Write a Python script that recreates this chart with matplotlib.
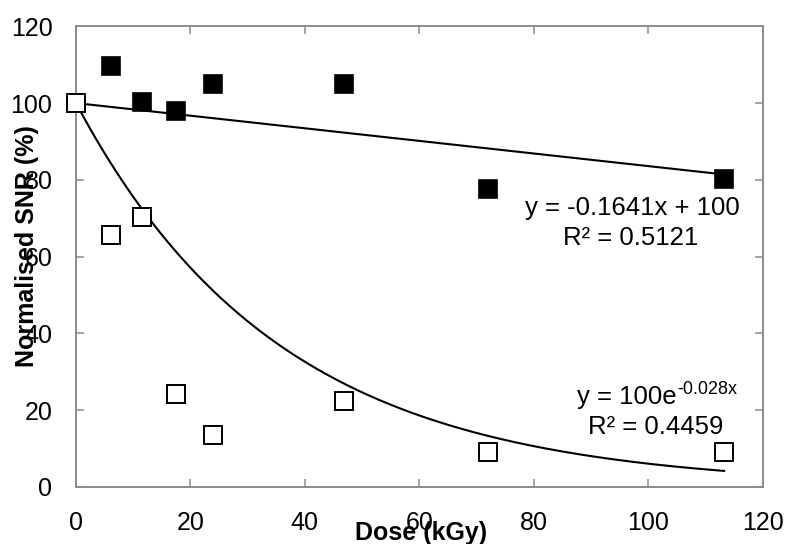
import numpy as np
import matplotlib.pyplot as plt

plt.rcParams["font.family"] = ["Liberation Sans", "DejaVu Sans"]

# irradiated (filled) and control (open) series
dose_filled = [6.2, 11.6, 17.5, 24.0, 46.9, 72.1, 113.3]
snr_filled = [109.6, 100.2, 97.9, 104.9, 104.9, 77.5, 80.2]

dose_open = [0.0, 6.2, 11.6, 17.5, 24.0, 46.9, 72.1, 113.3]
snr_open = [100.0, 65.6, 70.3, 24.2, 13.5, 22.3, 9.0, 9.0]

# trendline coefficients as printed on the chart
lin_slope, lin_icpt, lin_r2 = -0.1641, 100, 0.5121
exp_a, exp_b, exp_r2 = 100, -0.028, 0.4459

gray = "#8c8c8c"
fs = 18
fs_eq = 18.5

fig = plt.figure(figsize=(7.87, 5.44), dpi=100)
ax = fig.add_axes([76 / 787, 1 - 487 / 544, (762.5 - 76) / 787, (487 - 26.3) / 544])

xt = np.linspace(0, max(dose_open), 300)
ax.plot(xt, lin_slope * xt + lin_icpt, color="black", lw=1.5, zorder=2)
ax.plot(xt, exp_a * np.exp(exp_b * xt), color="black", lw=1.5, zorder=2)

ax.plot(dose_filled, snr_filled, "s", ms=12.5, mfc="black", mec="black",
        mew=1.2, ls="none", zorder=3, clip_on=False)
ax.plot(dose_open, snr_open, "s", ms=12.5, mfc="white", mec="black",
        mew=1.4, ls="none", zorder=4, clip_on=False)

ax.set_xlim(0, 120)
ax.set_ylim(0, 120)
ax.set_xticks(np.arange(0, 121, 20))
ax.set_yticks(np.arange(0, 121, 20))
ax.tick_params(direction="in", length=5.8, width=1.1, color=gray,
               labelsize=fs, top=True, right=True, pad=17)
for s in ax.spines.values():
    s.set_color(gray)
    s.set_linewidth(1.4)

tf = fig.transFigure
fig.text(632 / 787, 1 - 208 / 544, "y = -0.1641x + 100", ha="center", va="center",
         fontsize=fs_eq)
fig.text(631 / 787, 1 - 238 / 544, "R² = %.4f" % lin_r2, ha="center", va="center",
         fontsize=fs_eq)
fig.text(677 / 787, 1 - 397 / 544, "y = %de" % exp_a, ha="right", va="center",
         fontsize=fs_eq)
fig.text(677 / 787, 1 - 389 / 544, "%.3fx" % exp_b, ha="left", va="center",
         fontsize=13)
fig.text(656 / 787, 1 - 427 / 544, "R² = %.4f" % exp_r2, ha="center", va="center",
         fontsize=fs_eq)

fig.text(421 / 787, 1 - 540 / 544, "Dose (kGy)", ha="center", va="baseline",
         fontsize=18, fontweight="bold")
fig.text(27.5 / 787, 1 - 246 / 544, "Normalised SNR (%)", rotation=90,
         ha="center", va="center", fontsize=18, fontweight="bold")

fig.savefig("out.png", dpi=100)
